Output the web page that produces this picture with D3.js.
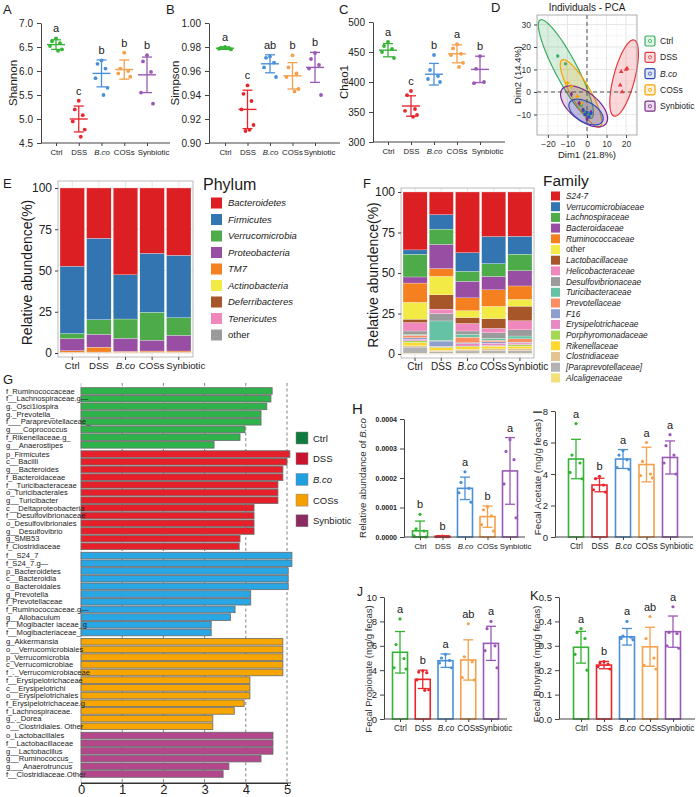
<!DOCTYPE html>
<html><head><meta charset="utf-8">
<script src="https://cdn.jsdelivr.net/npm/d3@7"></script>
<style>body{margin:0;background:#fff}svg{display:block}text{font-family:"Liberation Sans",Arial,Helvetica,sans-serif}</style>
</head><body><svg id="c" width="696" height="797"></svg>
<script>
// ---------------- DATA ----------------
const groups = ["Ctrl","DSS","B.co","COSs","Synbiotic"];

// A: Shannon
const shannonMean = [6.55, 5.0, 5.95, 6.03, 5.92];
const shannonSD = [0.1, 0.27, 0.28, 0.2, 0.37];
const shannonPts = [[6.68,6.62,6.58,6.52,6.45,6.42],[5.38,5.2,5.08,4.95,4.78,4.63],[6.22,6.15,6.05,5.85,5.65,5.5],[6.38,6.05,6.0,5.95,5.88],[6.33,6.2,5.98,5.55,5.32]];
const shannonLetters = ["a","c","b","b","b"];
// B: Simpson
const simpsonMean = [0.979, 0.928, 0.966, 0.956, 0.963];
const simpsonSD = [0.001, 0.016, 0.0075, 0.011, 0.0125];
const simpsonPts = [[0.980,0.9795,0.979,0.9785,0.978],[0.948,0.941,0.935,0.928,0.915,0.911,0.910],[0.972,0.971,0.967,0.963,0.955],[0.973,0.963,0.958,0.955,0.945,0.943],[0.975,0.970,0.965,0.962,0.940]];
const simpsonLetters = ["a","c","ab","b","b"];
// C: Chao1
const chaoMean = [453, 360, 413, 447, 421];
const chaoSD = [11, 17, 18, 15, 22];
const chaoPts = [[467,460,455,450,440],[385,378,355,352,345,342],[445,420,410,405,400],[463,456,447,445,432,425],[443,422,400,398]];
const chaoLetters = ["a","c","b","a","b"];

// D: PCA individuals
const pcaX = [[-15,-11,-3,-1,1],[17.5,20.5,17,18,20],[-2,0,1,-1,2],[-10,-8,-5,-3,-2],[-8,-4,-2,2,0]];
const pcaY = [[16,12.5,-6,-9,-10],[9,10.5,3,0,10],[-8,-9,-11,-10,-9.5],[4,2.5,-2,-5,-8],[-1,-5,-8,-9,-12]];
const ellCx = [-10.8, 19, -0.5, -3.05, -1.5];
const ellCy = [10.2, 6.2, -8.9, -0.65, -6.4];
const ellTipX = [-24, 24.1, 7.9, -12.8, 9.7];
const ellTipY = [32, 23.1, -13.1, 14.2, -14.1];
const ellRatio = [0.2, 0.27, 0.53, 0.25, 0.5];

// E: Phylum
const phyla = ["Bacteroidetes","Firmicutes","Verrucomicrobia","Proteobacteria","TM7","Actinobacteria","Deferribacteres","Tenericutes","other"];
const phylumCtrl = [47.4,40.8,3.1,7.3,1.0,0.1,0.1,0.1,0.1];
const phylumDSS  = [30.5,49.3,8.9,7.8,2.9,0.1,0.3,0.1,0.1];
const phylumBco  = [52.6,26.8,11.7,7.9,0.6,0.1,0.1,0.1,0.1];
const phylumCOSs = [39.6,35.7,16.9,6.6,0.6,0.1,0.3,0.1,0.1];
const phylumSyn  = [40.8,37.8,10.7,9.5,0.8,0.1,0.1,0.1,0.1];

// F: Family
const families = ["S24-7","Verrucomicrobiaceae","Lachnospiraceae","Bacteroidaceae","Ruminococcaceae","other","Lactobacillaceae","Helicobacteraceae","Desulfovibrionaceae","Turicibacteraceae","Prevotellaceae","F16","Erysipelotrichaceae","Porphyromonadaceae","Rikenellaceae","Clostridiaceae","[Paraprevotellaceae]","Alcaligenaceae"];
const famCtrl = [35.75,2.7,14.0,3.75,11.9,10.4,2.1,5.2,2.1,0.5,1.5,1.0,1.0,1.0,2.0,0.8,3.8,0.5];
const famDSS  = [14,8.9,9.4,15,4.8,11.4,8.8,2.7,4.6,12.1,0.3,3.2,0.5,0.5,1.5,0.8,1.0,0.5];
const famBco  = [37.45,11.5,6.2,10.2,7.9,4.2,3.75,4.6,2.1,1.7,3.5,0.5,1.5,0.5,1.5,1.0,1.4,0.5];
const famCOSs = [27.5,16.7,7.9,8.3,10.2,7.5,6.1,2.7,3.5,1.1,1.0,0.8,1.5,0.5,1.5,1.0,1.7,0.5];
const famSyn  = [27.35,11,10.25,9.4,8.3,4.2,9,5.6,3.8,1.7,2.1,0.5,1.0,1.0,1.5,1.3,1.5,0.5];

// G: LEfSe
const lefseCtrlTaxa = ["f_Ruminococcaceae","f__Lachnospiraceae.g—","g._Osci1lospira","g._Prevotella_","f___Paraprevotellaceae_","g___Coprococcus","f_Rikenellaceae.g_","g__Anaerostipes"];
const lefseCtrlLDA = [4.64,4.61,4.51,4.37,4.37,3.98,3.86,3.23];
const lefseDSSTaxa = ["p_Firmicutes","c__Bacilli","g__Bacteroides","f_Bacteroidaceae","f__Turicibacteraceae","o_Turicibacterales","g__Turicibacter","c__Deltaproteobacteria","f__Desulfovibrionaceae","o_Desulfovibrionales","g__Desulfovibrio","g_SMB53","f_Clostridiaceae"];
const lefseDSSLDA = [5.07,5.0,4.9,4.9,4.78,4.78,4.78,4.2,4.2,4.2,4.2,3.86,3.84];
const lefseBcoTaxa = ["f__S24_7","f_S24_7.g—","p_Bacteroidetes","c__Bacteroidia","o_Bacteroidales","g_Prevotella","f_Prevotellaceae","f_Ruminococcaceae.g—","g__Allobaculum","f__Mogibacter iaceae_g","f__Mogibacteriaceae_"];
const lefseBcoLDA = [5.12,5.12,5.03,5.03,5.03,4.12,4.12,3.74,3.63,3.16,3.16];
const lefseCOSsTaxa = ["g_Akkermansia","o__Verrucomicrobiales","p_Verrucomicrobia","c_Verrucomicrobiae","f_._Verrucomicrobiaceae","f__Erysipelotrichaceae","c__Erysipelotrichi","o__Erysipelotrichales","f_Erysipelotrichaceae.g","f_Lachnospiraceae.","g_._Dorea","o__Clostridiales. Other"];
const lefseCOSsLDA = [4.9,4.9,4.9,4.9,4.9,4.1,4.1,4.1,3.96,3.72,3.2,3.2];
const lefseSynTaxa = ["o_Lactobacillales","f__Lactobacillaceae","g__Lactobacillus","g__Ruminococcus_","g___Anaerotruncus","f__Clostridiaceae.Other"];
const lefseSynLDA = [4.66,4.66,4.66,4.37,3.59,3.45];
const ldaTicks = [0,1,2,3,4,5];

// H-K
const bcoMean = [0.000021,0.000002,0.000165,0.000069,0.000224];
const bcoSD = [0.000033,0.000002,0.000038,0.000036,0.000113];
const bcoPts = [[0.000077,0.000028,0.000020,0.000004,0.0000],[0.000003,0.000002,0.000001,0.000001,0.000001],[0.000221,0.000185,0.000165,0.000150,0.000118],[0.000102,0.000092,0.000072,0.000042,0.000020],[0.000330,0.000290,0.000262,0.000180,0.000065]];
const bcoLetters = ["b","b","a","b","a"];
const acetateMean = [4.95,3.3,4.95,4.6,5.05];
const acetateSD = [1.25,0.43,0.6,1.1,1.05];
const acetatePts = [[7.2,5.2,4.7,4.1,3.7],[3.85,3.7,3.3,3.0,2.85],[5.5,5.2,4.9,4.4,4.3],[6.0,4.8,4.0,3.9,3.75],[6.5,5.8,5.2,4.7,4.0]];
const acetateLetters = ["a","b","a","a","a"];
const propionateMean = [5.47,3.25,4.78,4.84,6.2];
const propionateSD = [1.7,0.75,0.55,1.65,1.4];
const propionatePts = [[8.2,6.1,4.95,4.2,4.1],[3.95,3.85,3.8,3.2,2.4,2.35],[5.3,5.0,4.8,4.6,4.2],[7.8,5.1,4.7,3.4,3.2],[8.0,7.4,6.0,5.6,4.2]];
const propionateLetters = ["a","b","a","ab","a"];
const butyrateMean = [0.294,0.221,0.337,0.296,0.358];
const butyrateSD = [0.065,0.015,0.034,0.08,0.064];
const butyratePts = [[0.37,0.355,0.33,0.265,0.2],[0.235,0.23,0.225,0.215,0.205],[0.40,0.34,0.335,0.33,0.325],[0.42,0.33,0.25,0.22,0.205],[0.46,0.355,0.35,0.30,0.29]];
const butyrateLetters = ["a","b","a","ab","a"];

// ---------------- STYLE ----------------
const dotColors = ["#35b335","#e8262d","#4a90d9","#f5a04a","#9b59b6"];
const pcaColors = ["#3aae5f","#e8383d","#2b4fbf","#f5a300","#7b2a8c"];
const phylumColors = ["#dc1f23","#3275b1","#4dab4a","#984ea3","#f58020","#f2ea45","#a65628","#f088bd","#9b9b9b"];
const famColors = ["#dc1f23","#3275b1","#4dab4a","#984ea3","#f58020","#f2ea45","#a65628","#f088bd","#9b9b9b","#66c2a5","#fc8d62","#8da0cb","#e78ac3","#a6d854","#ffd92f","#e5c494","#b3b3b3","#f3e07a"];
const lefseColors = ["#2db34a","#e6202a","#29a6e4","#f7a600","#b4468b"];
const lefseLegendColors = ["#0e7a3e","#c8122e","#1f9fe0","#f5a000","#8c2a62"];
const jit = [0,-4,4,-6,6,2,-2];

const svg = d3.select("#c");
const txt = (g,x,y,s,size,opts={}) => {
  const t = g.append("text").attr("x",x).attr("y",y).attr("font-size",size).attr("fill",opts.fill||"#1a1a1a").text(s);
  if (opts.anchor) t.attr("text-anchor",opts.anchor);
  if (opts.italic) t.attr("font-style","italic");
  if (opts.weight) t.attr("font-weight",opts.weight);
  if (opts.rotate) t.attr("transform",`rotate(-90,${x},${y})`);
  return t;
};
function styleCatLabels(axisG, size, shift){
  axisG.selectAll(".tick text").attr("font-size",size).attr("fill","#1a1a1a")
    .attr("font-style", d => d==="B.co" ? "italic" : null)
    .attr("dx", d => d==="Synbiotic" ? shift : (d==="COSs" ? -0.5 : 0));
}

// ---------------- A-C dot panels ----------------
function dotPanel(o){
  const g = svg.append("g");
  const y = d3.scaleLinear().domain(o.domain).range([o.yBottom,o.yTop]);
  const x = d3.scalePoint().domain(groups).range([o.xFirst,o.xLast]);
  const ay = g.append("g").attr("transform",`translate(${o.axisX},0)`)
    .call(d3.axisLeft(y).tickValues(o.ticks).tickFormat(d3.format(o.fmt)).tickSize(4).tickSizeOuter(0));
  ay.select(".domain").attr("stroke","#444");
  ay.selectAll(".tick line").attr("stroke","#444");
  ay.selectAll(".tick text").attr("font-size",10).attr("fill","#222").attr("dx",-1);
  const ax = g.append("g").attr("transform",`translate(0,${o.yBottom})`)
    .call(d3.axisBottom(x).tickSize(3).tickSizeOuter(0).tickPadding(3));
  ax.select(".domain").remove();
  ax.selectAll(".tick line").attr("stroke","#444");
  styleCatLabels(ax, 7.8, o.synShift);
  g.append("line").attr("x1",o.axisX).attr("x2",o.axisEnd).attr("y1",o.yBottom).attr("y2",o.yBottom).attr("stroke","#444");
  groups.forEach((grp,i)=>{
    const cx = x(grp), col = dotColors[i], m = o.mean[i], s = o.sd[i];
    o.pts[i].forEach((v,j)=> g.append("circle").attr("cx",cx+jit[j]).attr("cy",y(v)).attr("r",1.9).attr("fill",col));
    g.append("line").attr("x1",cx).attr("x2",cx).attr("y1",y(m-s)).attr("y2",y(m+s)).attr("stroke",col).attr("stroke-width",1.3);
    [m-s,m+s].forEach(v=> g.append("line").attr("x1",cx-5).attr("x2",cx+5).attr("y1",y(v)).attr("y2",y(v)).attr("stroke",col).attr("stroke-width",1.3));
    g.append("line").attr("x1",cx-9).attr("x2",cx+9).attr("y1",y(m)).attr("y2",y(m)).attr("stroke",col).attr("stroke-width",1.4);
    const top = Math.min(y(m+s), y(d3.max(o.pts[i])));
    txt(g,cx,top-6,o.letters[i],11,{anchor:"middle"});
  });
  txt(g,o.labelX,(o.yTop+o.yBottom)/2,o.ylabel,11.5,{anchor:"middle",rotate:true});
  txt(g,o.letterX,14,o.letter,13);
}
dotPanel({axisX:41,axisEnd:170,yTop:23,yBottom:143,domain:[4.5,7],ticks:[4.5,5,5.5,6,6.5,7],fmt:".1f",xFirst:56,xLast:147,synShift:6,
  mean:shannonMean,sd:shannonSD,pts:shannonPts,letters:shannonLetters,ylabel:"Shannon",labelX:17,letter:"A",letterX:3});
dotPanel({axisX:209,axisEnd:340,yTop:23,yBottom:143,domain:[0.9,1.0],ticks:[0.90,0.92,0.94,0.96,0.98,1.00],fmt:".2f",xFirst:225,xLast:315,synShift:4,
  mean:simpsonMean,sd:simpsonSD,pts:simpsonPts,letters:simpsonLetters,ylabel:"Simpson",labelX:179,letter:"B",letterX:166});
dotPanel({axisX:373,axisEnd:505,yTop:22,yBottom:142,domain:[300,500],ticks:[300,350,400,450,500],fmt:"d",xFirst:388,xLast:480,synShift:7,
  mean:chaoMean,sd:chaoSD,pts:chaoPts,letters:chaoLetters,ylabel:"Chao1",labelX:348,letter:"C",letterX:339});

// ---------------- D PCA ----------------
(function(){
  const g = svg.append("g");
  const L=537,R=637,T=15,B=135;
  const x = d3.scaleLinear().domain([-25.6,25.6]).range([L,R]);
  const y = d3.scaleLinear().domain([-19.1,34.2]).range([B,T]);
  g.append("rect").attr("x",L).attr("y",T).attr("width",R-L).attr("height",B-T).attr("fill","#fff");
  [-25,-15,-5,5,15,25].forEach(v=>{ if(x(v)>L&&x(v)<R) g.append("line").attr("x1",x(v)).attr("x2",x(v)).attr("y1",T).attr("y2",B).attr("stroke","#f1f1f1").attr("stroke-width",0.6);});
  [-15,-5,5,15,25].forEach(v=> g.append("line").attr("x1",L).attr("x2",R).attr("y1",y(v)).attr("y2",y(v)).attr("stroke","#f1f1f1").attr("stroke-width",0.6));
  [-20,-10,0,10,20].forEach(v=> g.append("line").attr("x1",x(v)).attr("x2",x(v)).attr("y1",T).attr("y2",B).attr("stroke","#e4e4e4").attr("stroke-width",0.9));
  [-10,0,10,20,30].forEach(v=> g.append("line").attr("x1",L).attr("x2",R).attr("y1",y(v)).attr("y2",y(v)).attr("stroke","#e4e4e4").attr("stroke-width",0.9));
  const order=[0,3,4,2,1];
  order.forEach(i=>{
    const cx=x(ellCx[i]), cy=y(ellCy[i]), tx=x(ellTipX[i]), ty=y(ellTipY[i]);
    const a=Math.hypot(tx-cx,ty-cy), ux=(tx-cx)/a, uy=(ty-cy)/a, b=a*ellRatio[i];
    const pts=d3.range(0,Math.PI*2,Math.PI/60).map(t=>[cx+a*Math.cos(t)*ux-b*Math.sin(t)*uy, cy+a*Math.cos(t)*uy+b*Math.sin(t)*ux]);
    g.append("path").attr("d",d3.line().curve(d3.curveLinearClosed)(pts)).attr("fill",pcaColors[i]).attr("fill-opacity",0.2)
      .attr("stroke",pcaColors[i]).attr("stroke-width",1.2);
  });
  g.append("line").attr("x1",x(0)).attr("x2",x(0)).attr("y1",T).attr("y2",B).attr("stroke","#555").attr("stroke-dasharray","4,3").attr("stroke-width",1);
  g.append("line").attr("x1",L).attr("x2",R).attr("y1",y(0)).attr("y2",y(0)).attr("stroke","#555").attr("stroke-dasharray","4,3").attr("stroke-width",1);
  const syms=[d3.symbolCircle,d3.symbolTriangle,d3.symbolSquare,d3.symbolCross,d3.symbolDiamond];
  order.forEach(i=> pcaX[i].forEach((v,j)=> g.append("path").attr("d",d3.symbol(syms[i],9)()).attr("transform",`translate(${x(v)},${y(pcaY[i][j])})`).attr("fill",pcaColors[i])));
  g.append("rect").attr("x",L).attr("y",T).attr("width",R-L).attr("height",B-T).attr("fill","none").attr("stroke","#9a9a9a").attr("stroke-width",0.8);
  const ax=g.append("g").attr("transform",`translate(0,${B})`).call(d3.axisBottom(x).tickValues([-20,-10,0,10,20]).tickSize(3).tickSizeOuter(0));
  ax.select(".domain").remove(); ax.selectAll(".tick line").attr("stroke","#444"); ax.selectAll(".tick text").attr("font-size",8.5).attr("fill","#333");
  const ay=g.append("g").attr("transform",`translate(${L},0)`).call(d3.axisLeft(y).tickValues([-10,0,10,20,30]).tickSize(3).tickSizeOuter(0));
  ay.select(".domain").remove(); ay.selectAll(".tick line").attr("stroke","#444"); ay.selectAll(".tick text").attr("font-size",8.5).attr("fill","#333");
  txt(g,(L+R)/2,11,"Individuals - PCA",10,{anchor:"middle"});
  txt(g,(L+R)/2,158,"Dim1 (21.8%)",9.5,{anchor:"middle"});
  txt(g,521,(T+B)/2,"Dim2 (14.4%)",9.5,{anchor:"middle",rotate:true});
  txt(g,491,12,"D",13);
  groups.forEach((grp,i)=>{
    const yy=41+i*16.3;
    g.append("rect").attr("x",645).attr("y",yy-5).attr("width",10).attr("height",10).attr("rx",1.5).attr("fill",pcaColors[i]).attr("fill-opacity",0.15).attr("stroke",pcaColors[i]).attr("stroke-width",1.2);
    g.append("circle").attr("cx",650).attr("cy",yy).attr("r",1.6).attr("fill","none").attr("stroke",pcaColors[i]).attr("stroke-width",0.8);
    txt(g,660,yy+3,grp,8.5,{italic:grp==="B.co"});
  });
})();

// ---------------- E, F stacked bars ----------------
function stackPanel(o){
  const g = svg.append("g");
  const table = groups.map((grp,i)=>{ const r={group:grp}; o.keys.forEach((k,j)=> r[k]=o.rows[i][j]); return r; });
  const stack = d3.stack().keys(o.keys.slice().reverse())(table);
  const x = d3.scaleBand().domain(groups).range([o.L+2,o.R-2]).paddingInner(0.08);
  const y = d3.scaleLinear().domain([0,100]).range([o.y0,o.y100]);
  g.append("rect").attr("x",o.L).attr("y",o.T).attr("width",o.R-o.L).attr("height",o.B-o.T).attr("fill","#fff");
  [0,25,50,75,100].forEach(v=> g.append("line").attr("x1",o.L).attr("x2",o.R).attr("y1",y(v)).attr("y2",y(v)).attr("stroke","#e6e6e6"));
  groups.forEach(grp=> g.append("line").attr("x1",x(grp)+x.bandwidth()/2).attr("x2",x(grp)+x.bandwidth()/2).attr("y1",o.T).attr("y2",o.B).attr("stroke","#e6e6e6"));
  const colorOf = k => o.colors[o.keys.indexOf(k)];
  stack.forEach(layer=>{
    g.selectAll(null).data(layer).join("rect")
      .attr("x",d=>x(d.data.group)).attr("width",x.bandwidth())
      .attr("y",d=>y(d[1])).attr("height",d=>Math.max(0,y(d[0])-y(d[1])))
      .attr("fill",colorOf(layer.key)).attr("stroke","#fff").attr("stroke-width",0.25);
  });
  g.append("rect").attr("x",o.L).attr("y",o.T).attr("width",o.R-o.L).attr("height",o.B-o.T).attr("fill","none").attr("stroke","#aaa").attr("stroke-width",0.8);
  const ay=g.append("g").attr("transform",`translate(${o.L},0)`).call(d3.axisLeft(y).tickValues([0,25,50,75,100]).tickSize(3).tickSizeOuter(0));
  ay.select(".domain").remove(); ay.selectAll(".tick line").attr("stroke","#444"); ay.selectAll(".tick text").attr("font-size",12).attr("fill","#222");
  const ax=g.append("g").attr("transform",`translate(0,${o.B})`).call(d3.axisBottom(x).tickSize(3).tickSizeOuter(0).tickPadding(2));
  ax.select(".domain").remove(); ax.selectAll(".tick line").attr("stroke","#444");
  styleCatLabels(ax,o.catFs,o.synShift);
  txt(g,o.labelX,(o.y0+o.y100)/2+2,"Relative abundence(%)",14,{anchor:"middle",rotate:true});
  txt(g,o.letterX,o.letterY,o.letter,13);
  txt(g,o.legX-8,o.titleY,o.title,o.titleFs);
  o.keys.forEach((k,i)=>{
    const yy=o.legY+i*o.legStep;
    g.append("rect").attr("x",o.legX).attr("y",yy-o.sw/2).attr("width",o.sw).attr("height",o.sw).attr("fill",o.colors[i]);
    txt(g,o.legX+o.sw+6,yy+o.fs*0.36,k,o.fs,{italic:k!=="other"});
  });
}
stackPanel({keys:phyla,rows:[phylumCtrl,phylumDSS,phylumBco,phylumCOSs,phylumSyn],colors:phylumColors,synShift:7,catFs:9.6,
  L:58,R:193,T:181,B:357,y0:353,y100:188,labelX:32,letter:"E",letterX:3,letterY:188,
  title:"Phylum",titleY:190,titleFs:16,legX:211,legY:203,legStep:16.5,sw:11,fs:9.5});
stackPanel({keys:families,rows:[famCtrl,famDSS,famBco,famCOSs,famSyn],colors:famColors,synShift:8,catFs:10,
  L:401,R:534,T:188,B:358,y0:354,y100:192,labelX:378,letter:"F",letterX:363,letterY:188,
  title:"Family",titleY:186,titleFs:15.5,legX:551,legY:196,legStep:10.7,sw:9,fs:8.3});

// ---------------- G LEfSe ----------------
(function(){
  const g = svg.append("g");
  const taxaSets=[lefseCtrlTaxa,lefseDSSTaxa,lefseBcoTaxa,lefseCOSsTaxa,lefseSynTaxa];
  const ldaSets=[lefseCtrlLDA,lefseDSSLDA,lefseBcoLDA,lefseCOSsLDA,lefseSynLDA];
  const rows=[]; let idx=0;
  taxaSets.forEach((set,gi)=> set.forEach((t,j)=>{ rows.push({taxon:t,lda:ldaSets[gi][j],gi,pos:idx+gi*0.2}); idx++; }));
  const x = d3.scaleLinear().domain([0,5]).range([81,287]);
  const y = d3.scaleLinear().domain([0,49.8]).range([391,774]);
  ldaTicks.filter(v=>v>0).forEach(v=> g.append("line").attr("x1",x(v)).attr("x2",x(v)).attr("y1",383).attr("y2",783).attr("stroke","#666").attr("stroke-dasharray","3,2.5").attr("stroke-width",0.8));
  g.append("line").attr("x1",81).attr("x2",81).attr("y1",383).attr("y2",783).attr("stroke","#bbb").attr("stroke-width",0.8);
  g.selectAll(null).data(rows).join("rect")
    .attr("x",x(0)).attr("y",d=>y(d.pos)-3.3).attr("height",6.6).attr("width",d=>x(d.lda)-x(0))
    .attr("fill",d=>lefseColors[d.gi]).attr("stroke","#6a6a6a").attr("stroke-width",0.8);
  g.selectAll(null).data(rows).join("text")
    .attr("x",6).attr("y",d=>y(d.pos)+2.7).attr("font-size",7.6).attr("fill","#222").text(d=>d.taxon);
  const ax=g.append("g").attr("transform","translate(0,783)").call(d3.axisBottom(x).tickValues(ldaTicks).tickFormat(d3.format("d")).tickSize(3).tickSizeOuter(0).tickPadding(0));
  ax.select(".domain").attr("stroke","#333").attr("stroke-width",1.2);
  ax.selectAll(".tick line").attr("stroke","#333");
  ax.selectAll(".tick text").attr("font-size",13).attr("fill","#222").attr("y",1.5);
  g.append("line").attr("x1",81).attr("x2",291).attr("y1",783).attr("y2",783).attr("stroke","#333").attr("stroke-width",1.2);
  txt(g,3,384,"G",13);
  groups.forEach((grp,i)=>{
    const yy=438+i*20.7;
    g.append("rect").attr("x",296).attr("y",yy-6).attr("width",12).attr("height",12).attr("fill",lefseLegendColors[i]).attr("stroke","#888").attr("stroke-width",0.5);
    txt(g,313,yy+3.5,grp,9.5,{italic:grp==="B.co"});
  });
})();

// ---------------- H-K bar panels ----------------
function barPanel(o){
  const g = svg.append("g");
  const y = d3.scaleLinear().domain(o.domain).range([o.yBottom,o.yTop]);
  const x = d3.scalePoint().domain(groups).range([o.xFirst,o.xLast]);
  const bw = 15;
  groups.forEach((grp,i)=>{
    const cx=x(grp), col=dotColors[i], m=o.mean[i], s=o.sd[i];
    g.append("rect").attr("x",cx-bw/2).attr("y",y(m)).attr("width",bw).attr("height",y(0)-y(m)).attr("fill","none").attr("stroke",col).attr("stroke-width",1.6);
    const lo=Math.max(o.domain[0],m-s);
    g.append("line").attr("x1",cx).attr("x2",cx).attr("y1",y(lo)).attr("y2",y(m+s)).attr("stroke",col).attr("stroke-width",1.3);
    [lo,m+s].forEach(v=> g.append("line").attr("x1",cx-5).attr("x2",cx+5).attr("y1",y(v)).attr("y2",y(v)).attr("stroke",col).attr("stroke-width",1.3));
    o.pts[i].forEach((v,j)=> g.append("circle").attr("cx",cx+jit[j]).attr("cy",y(v)).attr("r",1.6).attr("fill",col));
    const top=Math.min(y(m+s),y(d3.max(o.pts[i])));
    txt(g,cx,top-6,o.letters[i],11,{anchor:"middle"});
  });
  const ay=g.append("g").attr("transform",`translate(${o.axisX},0)`).call(d3.axisLeft(y).tickValues(o.ticks).tickFormat(d3.format(o.fmt)).tickSize(4).tickSizeOuter(0));
  ay.select(".domain").attr("stroke","#444"); ay.selectAll(".tick line").attr("stroke","#444");
  ay.selectAll(".tick text").attr("font-size",o.tickFs).attr("fill","#222").attr("font-weight",o.tickW||null);
  const ax=g.append("g").attr("transform",`translate(0,${o.yBottom})`).call(d3.axisBottom(x).tickSize(3).tickSizeOuter(0).tickPadding(3));
  ax.select(".domain").remove(); ax.selectAll(".tick line").attr("stroke","#444");
  styleCatLabels(ax,o.catFs||8.3,o.synShift);
  g.append("line").attr("x1",o.axisX).attr("x2",o.axisEnd).attr("y1",o.yBottom).attr("y2",o.yBottom).attr("stroke","#444");
  const lab=txt(g,o.labelX,o.labelY,"",o.labelFs||9.8,{anchor:"middle",rotate:true,fill:"#333"});
  o.ylabel.forEach(p=> lab.append("tspan").attr("font-style",p.i?"italic":null).text(p.t));
  txt(g,o.letterX,o.letterY,o.letter,o.letterFs||13,{rotate:o.letterRot});
}
barPanel({axisX:404,axisEnd:525,yTop:419,yBottom:537,domain:[0,0.0004],ticks:[0,0.0001,0.0002,0.0003,0.0004],fmt:".4f",tickFs:7,tickW:"bold",synShift:5,catFs:7.8,
  xFirst:420,xLast:510,mean:bcoMean,sd:bcoSD,pts:bcoPts,letters:bcoLetters,
  ylabel:[{t:"Relative abundance of "},{t:"B.co",i:true}],labelX:366,labelY:478,letter:"H",letterX:352,letterY:414,letterFs:15});
barPanel({axisX:555,axisEnd:693,yTop:411,yBottom:537,domain:[0,8],ticks:[0,2,4,6,8],fmt:"d",tickFs:9.5,synShift:6,
  xFirst:576,xLast:670,mean:acetateMean,sd:acetateSD,pts:acetatePts,letters:acetateLetters,
  ylabel:[{t:"Fecal Acetate (mg/g fecas)"}],labelX:541,labelY:477,letter:"I",letterX:542,letterY:414,letterRot:true});
barPanel({axisX:384,axisEnd:507,yTop:597,yBottom:719,domain:[0,10],ticks:[0,2,4,6,8,10],fmt:"d",tickFs:9.5,synShift:4,
  xFirst:400,xLast:491,mean:propionateMean,sd:propionateSD,pts:propionatePts,letters:propionateLetters,
  ylabel:[{t:"Fecal Propionate (mg/g fecas)"}],labelX:372,labelY:669,labelFs:9.5,letter:"J",letterX:357,letterY:596,letterFs:12});
barPanel({axisX:559,axisEnd:695,yTop:597,yBottom:719,domain:[0,0.5],ticks:[0,0.1,0.2,0.3,0.4,0.5],fmt:".1f",tickFs:9.5,synShift:4,
  xFirst:581,xLast:673,mean:butyrateMean,sd:butyrateSD,pts:butyratePts,letters:butyrateLetters,
  ylabel:[{t:"Fecal Butyrate (mg/g fecas)"}],labelX:540,labelY:664,labelFs:9.5,letter:"K",letterX:530,letterY:600,letterFs:13});
</script></body></html>
